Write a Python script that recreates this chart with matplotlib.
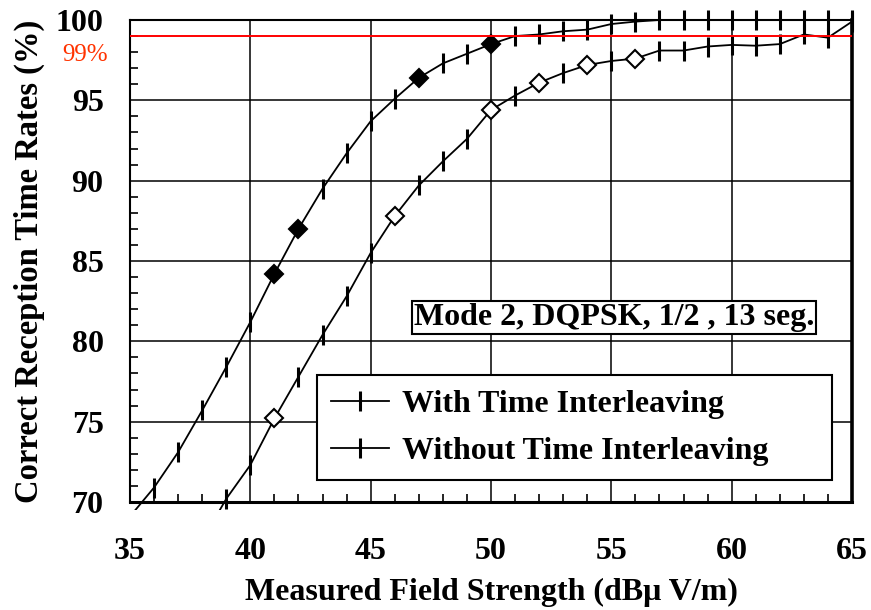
import matplotlib
matplotlib.use("Agg")
import matplotlib.pyplot as plt
from matplotlib.ticker import MultipleLocator
from matplotlib.transforms import Bbox, TransformedBbox, blended_transform_factory

# ---- data ----
x_with = list(range(35, 66))
y_with = [69.1, 70.9, 73.1, 75.7, 78.4, 81.2, 84.2, 87.0, 89.5, 91.7, 93.7,
          95.1, 96.4, 97.3, 97.9, 98.5, 99.0, 99.1, 99.3, 99.4, 99.75, 99.9,
          100, 100, 100, 100, 100, 100, 100, 100, 100]
x_without = list(range(38, 66))
y_without = [67.6, 70.2, 72.3, 75.2, 77.8, 80.4, 82.8, 85.5, 87.8, 89.7, 91.2,
             92.6, 94.4, 95.3, 96.1, 96.7, 97.2, 97.45, 97.6, 98.1, 98.1, 98.35,
             98.45, 98.4, 98.5, 99.1, 98.9, 99.9]
diam_with_x = [41, 42, 47, 50]
diam_without_x = [41, 46, 50, 52, 54, 56]
label_with = "With Time Interleaving"
label_without = "Without Time Interleaving"
x_ticks = [35, 40, 45, 50, 55, 60, 65]
y_ticks = [70, 75, 80, 85, 90, 95, 100]
threshold = 99

plt.rcParams['font.family'] = ['Liberation Serif', 'DejaVu Serif']
plt.rcParams['font.weight'] = 'bold'

fig = plt.figure(figsize=(8.71, 6.10), dpi=100)
ax = fig.add_axes([130/871, 108/610, 722/871, 482/610])

ax.set_xlim(35, 65)
ax.set_ylim(70, 100)

clip = TransformedBbox(Bbox([[-0.01, -0.016], [1.01, 1.03]]), ax.transAxes)

def draw_curve(xs, ys, dxs, filled, label):
    skip = set(dxs)
    idx = [i for i, xv in enumerate(xs) if xv not in skip and ys[i] >= 69.9]
    ln, = ax.plot(xs, ys, color='black', lw=1.3, marker='|', ms=14, mew=2.2,
                  markevery=idx, label=label, zorder=3)
    ln.set_clip_path(None)
    ln.set_clip_box(clip)
    dys = [ys[xs.index(v)] for v in dxs]
    ax.plot(dxs, dys, linestyle='none', marker='D', ms=9.5,
            mfc='black' if filled else 'white', mec='black', mew=1.5,
            zorder=4, label='_nolegend_')
    return ln

draw_curve(x_with, y_with, diam_with_x, True, label_with)
draw_curve(x_without, y_without, diam_without_x, False, label_without)

ax.axhline(threshold, color='red', lw=1.4, zorder=5)

ax.set_xticks(x_ticks)
ax.set_yticks(y_ticks)
ax.xaxis.set_minor_locator(MultipleLocator(1))
ax.yaxis.set_minor_locator(MultipleLocator(1))
ax.tick_params(which='major', length=0, labelsize=23)
ax.tick_params(axis='x', which='major', pad=25)
ax.tick_params(axis='y', which='major', pad=19)
ax.tick_params(which='minor', direction='in', length=6, width=1.2,
               top=False, right=False, left=True, bottom=True)
for lab in ax.get_xticklabels() + ax.get_yticklabels():
    lab.set_fontweight('bold')

ax.grid(which='major', color='black', lw=1.1)

for side in ['left', 'top']:
    ax.spines[side].set_linewidth(1.5)
ax.spines['bottom'].set_linewidth(2.2)
ax.spines['right'].set_linewidth(2.6)

trans = blended_transform_factory(ax.transAxes, ax.transData)
ax.text(-0.03, 97.8, '99%', transform=trans, ha='right', va='center',
        color='#ff3300', fontsize=18, fontweight='normal')

ax.set_xlabel('Measured Field Strength (dB\u03bc V/m)', fontsize=23,
              fontweight='bold', labelpad=9)
ax.set_ylabel('Correct Reception Time Rates (%)', fontsize=23.5,
              fontweight='bold', labelpad=8)

ax.text(55.1, 81.5, 'Mode 2, DQPSK, 1/2 , 13 seg.', ha='center', va='center',
        fontsize=23, fontweight='bold', zorder=6,
        bbox=dict(boxstyle='square,pad=0.06', fc='white', ec='black', lw=1.5))

leg = ax.legend(loc='upper left', bbox_to_anchor=(0.259, 0.058, 0.713, 0.205),
                mode='expand', borderaxespad=0, fontsize=23, numpoints=1,
                fancybox=False, framealpha=1, edgecolor='black',
                handlelength=1.8, handletextpad=0.4, borderpad=0.45,
                labelspacing=0.55)
leg.get_frame().set_linewidth(1.5)
leg.set_zorder(6)
for t in leg.get_texts():
    t.set_fontweight('bold')

fig.savefig('out.png', dpi=100)
